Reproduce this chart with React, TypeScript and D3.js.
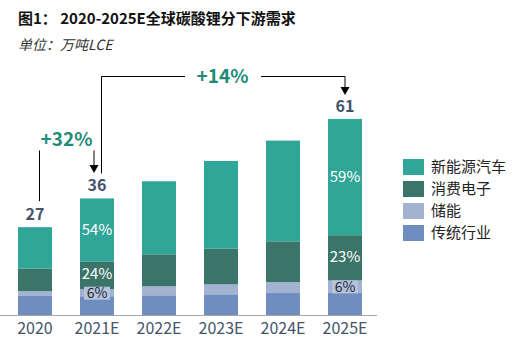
import React, { useEffect, useRef } from 'react';
import * as d3 from 'd3';

const years = ['2020', '2021E', '2022E', '2023E', '2024E', '2025E'];
const seriesNames = ['传统行业', '储能', '消费电子', '新能源汽车'];
// 万吨LCE
const traditional = [5.9, 5.8, 6.1, 6.4, 6.8, 7.0];
const storage = [1.5, 2.2, 2.8, 3.1, 3.4, 3.7];
const consumer = [7.0, 8.6, 9.9, 11.1, 12.6, 14.0];
const nev = [12.8, 19.5, 22.6, 27.1, 31.2, 36.0];
const totalLabels = ['27', '36', '', '', '', '61'];
const growthLabels = ['+32%', '+14%'];
const labelledYears = ['2021E', '2025E'];

const colors = ['#6f8dbf', '#a2b3d1', '#3b7469', '#30a699'];
const legendOrder = [3, 2, 1, 0];
const FONT = '"Noto Sans CJK SC", "Noto Sans", sans-serif';

const App: React.FC = () => {
  const ref = useRef<SVGSVGElement>(null);

  useEffect(() => {
    const svg = d3.select(ref.current);
    svg.selectAll('*').remove();

    const baseline = 315;
    const series = [traditional, storage, consumer, nev];
    const rows = years.map((year, i) => {
      const row: any = { year };
      seriesNames.forEach((name, k) => (row[name] = series[k][i]));
      return row;
    });
    const totals = years.map((_, i) => d3.sum(series, (s) => s[i]));

    const x = d3.scaleBand().domain(years).range([4, 376]).paddingInner(0.4516).paddingOuter(0.2258);
    const y = d3.scaleLinear().domain([0, 61]).range([baseline, baseline - 61 * 3.23]);
    const stacked = d3.stack<any>().keys(seriesNames)(rows);
    const bw = x.bandwidth();

    // title
    svg
      .append('text')
      .attr('x', 18)
      .attr('y', 24)
      .attr('font-family', FONT)
      .attr('font-size', '15px')
      .attr('font-weight', 'bold')
      .attr('fill', '#111')
      .text('图1： 2020-2025E全球碳酸锂分下游需求');
    svg
      .append('text')
      .attr('x', 18)
      .attr('y', 50)
      .attr('font-family', FONT)
      .attr('font-size', '14px')
      .attr('font-style', 'italic')
      .attr('fill', '#333')
      .text('单位：万吨LCE');

    // bars
    stacked.forEach((layer, k) => {
      svg
        .append('g')
        .selectAll('rect')
        .data(layer)
        .enter()
        .append('rect')
        .attr('x', (d: any) => x(d.data.year)!)
        .attr('y', (d) => y(d[1]))
        .attr('width', bw)
        .attr('height', (d) => y(d[0]) - y(d[1]))
        .attr('fill', colors[k]);
    });

    // axis
    svg
      .append('line')
      .attr('x1', 0)
      .attr('x2', 377)
      .attr('y1', baseline + 0.5)
      .attr('y2', baseline + 0.5)
      .attr('stroke', '#a6a6a6')
      .attr('stroke-width', 1);
    svg
      .append('g')
      .selectAll('text')
      .data(years)
      .enter()
      .append('text')
      .attr('x', (d) => x(d)! + bw / 2)
      .attr('y', 334)
      .attr('text-anchor', 'middle')
      .attr('font-family', FONT)
      .attr('font-size', '16px')
      .attr('fill', '#44546a')
      .text((d) => d);

    // totals
    svg
      .append('g')
      .selectAll('text')
      .data(years)
      .enter()
      .append('text')
      .attr('x', (d) => x(d)! + bw / 2)
      .attr('y', (_d, i) => y(totals[i]) - 7)
      .attr('text-anchor', 'middle')
      .attr('font-family', FONT)
      .attr('font-size', '16px')
      .attr('font-weight', 'bold')
      .attr('fill', '#44546a')
      .text((_d, i) => totalLabels[i]);

    // share labels for 2021E and 2025E
    labelledYears.forEach((year) => {
      const i = years.indexOf(year);
      const cx = x(year)! + bw / 2;
      [3, 2, 1].forEach((k) => {
        const seg = stacked[k][i];
        const cy = (y(seg[0]) + y(seg[1])) / 2 + (k === 2 ? -1.5 : k === 1 ? 0.5 : 0);
        const pct = `${Math.round((series[k][i] / totals[i]) * 100)}%`;
        if (k === 1) {
          svg
            .append('rect')
            .attr('x', cx - 13)
            .attr('y', cy - 6.5)
            .attr('width', 26)
            .attr('height', 13)
            .attr('fill', '#b6c3dc');
        }
        svg
          .append('text')
          .attr('x', cx)
          .attr('y', cy)
          .attr('dy', '0.36em')
          .attr('text-anchor', 'middle')
          .attr('font-family', FONT)
          .attr('font-size', k === 1 ? '14px' : '15px')
          .attr('fill', k === 1 ? '#1f2733' : '#ffffff')
          .text(pct);
      });
    });

    // growth annotations
    const arrow = (ax: number, tipY: number) =>
      svg
        .append('path')
        .attr('d', `M${ax - 4.5},${tipY - 8} L${ax + 4.5},${tipY - 8} L${ax},${tipY} Z`)
        .attr('fill', '#000');
    const line = (pts: [number, number][]) =>
      svg
        .append('path')
        .attr('d', d3.line()(pts)!)
        .attr('fill', 'none')
        .attr('stroke', '#000')
        .attr('stroke-width', 1);
    const growthText = (tx: number, ty: number, t: string) =>
      svg
        .append('text')
        .attr('x', tx)
        .attr('y', ty)
        .attr('dy', '0.36em')
        .attr('text-anchor', 'middle')
        .attr('font-family', FONT)
        .attr('font-size', '19px')
        .attr('font-weight', 'bold')
        .attr('fill', '#1e8b78')
        .text(t);

    const c0 = x(years[0])! + bw / 2;
    const c1 = x(years[1])! + bw / 2;
    const c5 = x(years[5])! + bw / 2;

    // +32%
    line([
      [c0 + 4.5, y(totals[0]) - 26],
      [c0 + 4.5, 150.5],
    ]);
    line([
      [c1 - 3, 150.5],
      [c1 - 3, 166],
    ]);
    arrow(c1 - 3, 173);
    growthText((c0 + c1) / 2 + 0.5, 139, growthLabels[0]);

    // +14%
    const topY = 76.5;
    line([
      [c1 + 4.5, y(totals[1]) - 25],
      [c1 + 4.5, topY],
      [185, topY],
    ]);
    line([
      [261, topY],
      [c5, topY],
      [c5, 88],
    ]);
    arrow(c5, 95);
    growthText(222.5, topY, growthLabels[1]);

    // legend
    const legend = svg
      .append('g')
      .selectAll('g')
      .data(legendOrder)
      .enter()
      .append('g')
      .attr('transform', (_d, i) => `translate(403,${159 + i * 22})`);
    legend.append('rect').attr('width', 21).attr('height', 16).attr('fill', (k) => colors[k]);
    legend
      .append('text')
      .attr('x', 28)
      .attr('y', 8)
      .attr('dy', '0.36em')
      .attr('font-family', FONT)
      .attr('font-size', '15px')
      .attr('fill', '#222')
      .text((k) => seriesNames[k]);

    return () => {
      svg.selectAll('*').remove();
    };
  }, []);

  return (
    <svg
      ref={ref}
      width={521}
      height={353}
      style={{ position: 'absolute', left: 0, top: 0, background: '#fff' }}
    />
  );
};

export default App;
